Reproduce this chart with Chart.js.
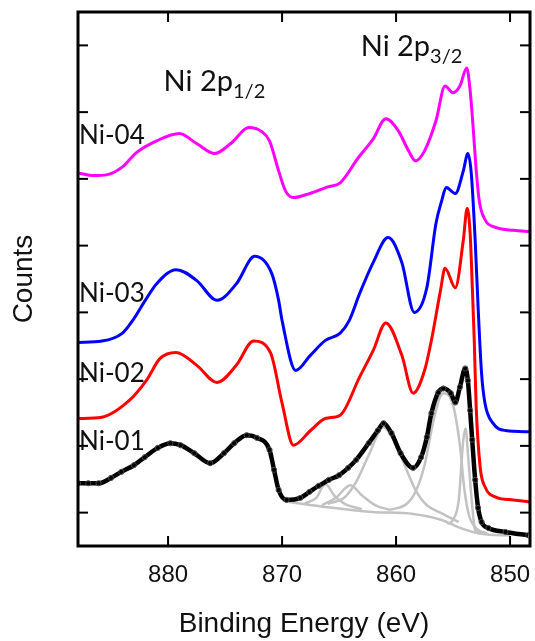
<!DOCTYPE html>
<html>
<head>
<meta charset="utf-8">
<script src="https://cdn.jsdelivr.net/npm/chart.js@4.4.1/dist/chart.umd.min.js"></script>
<style>
  body { margin: 0; background: #fff; }
</style>
</head>
<body>
<canvas id="xpsCanvas" width="535" height="641"></canvas>
<script>
// axis
var xTicks = [880, 870, 860, 850];
var yTicks = [0.5, 1.5, 2.5, 3.5, 4.5, 5.5, 6.5, 7.5];
var sampleNames = ["Ni-01", "Ni-02", "Ni-03", "Ni-04"];
var peakNames = ["Ni 2p", "Ni 2p"];
var peakSubs = ["1/2", "3/2"];

// Ni-04 (magenta)
var ni04Energy = [887.9, 886.5, 885.4, 884.0, 882.8, 881.0, 879.0, 877.5, 875.9, 874.5, 872.9, 871.8, 871.1, 870.3, 869.7, 869.0, 867.6, 866.0, 864.9, 863.3, 862.0, 860.9, 859.8, 858.9, 858.3, 857.5, 856.5, 855.7, 855.0, 854.4, 853.8, 853.5, 853.25, 853.0, 852.7, 852.2, 851.2, 849.7, 848.25];
var ni04Counts = [5.59, 5.55, 5.56, 5.68, 5.89, 6.07, 6.18, 6.03, 5.88, 6.03, 6.27, 6.21, 6.07, 5.62, 5.32, 5.22, 5.28, 5.38, 5.44, 5.82, 6.10, 6.40, 6.22, 5.92, 5.77, 5.92, 6.37, 6.89, 6.79, 6.89, 7.16, 6.82, 6.30, 5.70, 5.17, 4.89, 4.77, 4.73, 4.71];

// Ni-03 (blue)
var ni03Energy = [887.9, 885.8, 884.0, 883.1, 882.0, 881.0, 879.3, 877.5, 875.7, 874.0, 872.4, 870.9, 870.3, 870.0, 868.8, 867.5, 866.2, 864.9, 864.1, 863.2, 862.0, 860.7, 859.5, 858.4, 857.3, 856.5, 856.0, 855.6, 854.8, 854.1, 853.7, 853.4, 853.06, 852.8, 852.5, 852.2, 851.5, 850.4, 848.25];
var ni03Counts = [3.05, 3.07, 3.19, 3.38, 3.68, 3.93, 4.14, 3.98, 3.68, 3.93, 4.34, 4.08, 3.68, 3.38, 2.63, 2.86, 3.08, 3.19, 3.38, 3.78, 4.25, 4.62, 4.25, 3.50, 3.87, 4.83, 5.17, 5.37, 5.28, 5.62, 5.88, 5.58, 4.58, 3.57, 2.59, 2.14, 1.84, 1.73, 1.71];

// Ni-02 (red)
var ni02Energy = [887.9, 885.8, 883.4, 881.9, 880.7, 879.3, 877.5, 875.7, 874.0, 872.5, 871.0, 870.0, 869.0, 867.5, 866.2, 864.9, 863.2, 862.0, 860.9, 859.5, 858.5, 857.5, 856.9, 856.1, 855.7, 854.8, 854.1, 853.76, 853.5, 853.3, 853.14, 852.97, 852.62, 852.18, 851.2, 849.7, 848.25];
var ni02Counts = [1.91, 1.93, 2.18, 2.48, 2.81, 2.90, 2.71, 2.45, 2.71, 3.07, 2.89, 2.14, 1.51, 1.73, 1.91, 1.96, 2.53, 2.93, 3.34, 2.86, 2.29, 2.63, 3.08, 3.83, 4.16, 3.87, 4.58, 5.06, 4.68, 3.83, 3.08, 2.08, 1.18, 0.88, 0.73, 0.69, 0.66];

// Ni-01 (black, measured)
var ni01Energy = [887.9, 887.0, 886.1, 885.0, 884.1, 883.0, 882.05, 880.9, 879.8, 878.9, 877.7, 876.3, 875.1, 874.2, 873.1, 872.2, 871.1, 870.7, 870.3, 869.6, 868.4, 867.6, 866.8, 865.9, 865.0, 864.2, 863.5, 862.4, 861.6, 861.1, 860.4, 859.6, 858.5, 857.8, 857.3, 856.9, 856.3, 855.85, 855.2, 854.8, 854.4, 853.93, 853.7, 853.5, 853.32, 853.06, 852.8, 852.5, 851.9, 850.4, 848.4];
var ni01Counts = [0.94, 0.94, 0.94, 1.02, 1.11, 1.21, 1.33, 1.47, 1.54, 1.51, 1.39, 1.24, 1.39, 1.54, 1.66, 1.62, 1.44, 1.14, 0.84, 0.69, 0.72, 0.81, 0.90, 0.99, 1.06, 1.17, 1.29, 1.54, 1.73, 1.84, 1.69, 1.39, 1.17, 1.33, 1.63, 1.99, 2.30, 2.36, 2.29, 2.15, 2.38, 2.66, 2.48, 2.03, 1.59, 0.99, 0.57, 0.36, 0.27, 0.21, 0.16];

// Ni-01 fit: background and components (grey)
var bgEnergy = [869.4, 866.0, 862.1, 858.5, 856.0, 854.5, 852.8, 850.8, 850.0];
var bgCounts = [0.66, 0.58, 0.51, 0.48, 0.39, 0.28, 0.19, 0.16, 0.16];
var fit1Energy = [868.0, 867.0, 866.2, 865.4, 864.5, 863.0];
var fit1Counts = [0.64, 0.72, 0.93, 0.75, 0.63, 0.55];
var fit2Energy = [866.5, 865.3, 864.0, 863.0, 861.8, 860.5];
var fit2Counts = [0.61, 0.72, 0.91, 0.76, 0.61, 0.54];
var fit3Energy = [866.0, 864.5, 863.5, 862.4, 861.1, 860.0, 859.0, 858.3, 857.3, 856.0, 854.5];
var fit3Counts = [0.63, 0.73, 0.96, 1.36, 1.78, 1.51, 1.11, 0.84, 0.61, 0.49, 0.36];
var fit4Energy = [860.5, 859.0, 858.3, 857.5, 856.8, 856.2, 855.8, 855.0, 854.4, 854.0, 853.6, 853.0, 852.0];
var fit4Counts = [0.54, 0.64, 0.81, 1.21, 1.81, 2.21, 2.29, 2.11, 1.51, 0.84, 0.46, 0.27, 0.19];
var fit5Energy = [855.5, 855.0, 854.5, 854.1, 853.9, 853.67, 853.4, 853.06, 852.5];
var fit5Counts = [0.33, 0.39, 0.69, 1.59, 1.76, 1.33, 0.76, 0.24, 0.19];

function toPoints(xs, ys) {
    return xs.map(function(x, i){ return {x: x, y: ys[i]}; });
}

function lineSet(xs, ys, color, width) {
    return {
        data: toPoints(xs, ys),
        borderColor: color,
        borderWidth: width,
        pointRadius: 0,
        cubicInterpolationMode: "monotone",
        fill: false
    };
}

var fitColor = "#c2c2c2";
var datasets = [
    {
        data: toPoints(ni01Energy, ni01Counts),
        borderColor: "#000",
        borderWidth: 4.5,
        pointRadius: 2.6,
        pointBorderWidth: 1,
        pointBorderColor: "#444",
        pointBackgroundColor: "rgba(255,255,255,0)",
        cubicInterpolationMode: "monotone",
        fill: false
    },
    lineSet(bgEnergy, bgCounts, fitColor, 2.5),
    lineSet(fit1Energy, fit1Counts, fitColor, 2.5),
    lineSet(fit2Energy, fit2Counts, fitColor, 2.5),
    lineSet(fit3Energy, fit3Counts, fitColor, 2.5),
    lineSet(fit4Energy, fit4Counts, fitColor, 2.5),
    lineSet(fit5Energy, fit5Counts, fitColor, 2.5),
    lineSet(ni02Energy, ni02Counts, "#ff0000", 3),
    lineSet(ni03Energy, ni03Counts, "#0000ff", 3),
    lineSet(ni04Energy, ni04Counts, "#ff00ff", 3)
];

// frame, inward ticks and text labels
var framePlugin = {
    id: "frame",
    afterDraw: function(chart) {
        var ctx = chart.ctx, xs = chart.scales.x, ys = chart.scales.y, a = chart.chartArea;
        ctx.save();
        function seg(x1, y1, x2, y2) {
            ctx.beginPath(); ctx.moveTo(x1, y1); ctx.lineTo(x2, y2); ctx.stroke();
        }
        ctx.strokeStyle = "#000";
        ctx.lineWidth = 2;
        xTicks.forEach(function(v){
            var px = xs.getPixelForValue(v);
            seg(px, a.bottom, px, a.bottom - 10);
            seg(px, a.top, px, a.top + 10);
        });
        yTicks.forEach(function(v){
            var py = ys.getPixelForValue(v);
            seg(a.left, py, a.left + 10, py);
            seg(a.right, py, a.right - 10, py);
        });
        ctx.lineWidth = 3;
        ctx.strokeRect(a.left, a.top, a.right - a.left, a.bottom - a.top);

        ctx.fillStyle = "#111";
        ctx.textAlign = "left";
        ctx.textBaseline = "middle";
        ctx.font = "26px Lato";
        var nameY = [1.56, 2.59, 3.78, 6.15];
        sampleNames.forEach(function(n, i){
            ctx.fillText(n, a.left + 1, ys.getPixelForValue(nameY[i]));
        });

        ctx.textBaseline = "alphabetic";
        var peakX = [880.39, 863.1];
        var peakY = [6.81, 7.34];
        peakNames.forEach(function(n, i){
            var px = xs.getPixelForValue(peakX[i]);
            var py = ys.getPixelForValue(peakY[i]);
            ctx.font = "29px Lato";
            ctx.fillText(n, px, py);
            var w = ctx.measureText(n).width;
            ctx.font = "20px Lato";
            ctx.fillText(peakSubs[i], px + w, py + 7);
        });
        ctx.restore();
    }
};

var ctx = document.getElementById("xpsCanvas");
var xpsChart = new Chart(ctx, {
    type: "line",
    data: { datasets: datasets },
    options: {
        responsive: false,
        animation: false,
        devicePixelRatio: 1,
        layout: { padding: { top: 12, right: 3, left: 0, bottom: 0 } },
        plugins: { legend: { display: false }, tooltip: { enabled: false } },
        scales: {
            x: {
                type: "linear",
                reverse: true,
                min: 848.25,
                max: 887.9,
                afterFit: function(scale){
                    scale.height = 95;
                    scale.paddingLeft = 0;
                    scale.paddingRight = 0;
                },
                afterBuildTicks: function(scale){
                    scale.ticks = xTicks.map(function(v){ return {value: v}; });
                },
                grid: { display: false, drawTicks: false },
                border: { display: false },
                ticks: {
                    padding: 15,
                    color: "#111",
                    font: { family: "Liberation Sans", size: 24 }
                },
                title: {
                    display: true,
                    text: "Binding Energy (eV)",
                    color: "#111",
                    padding: { top: 0, bottom: 0 },
                    font: { family: "Liberation Sans", size: 28 }
                }
            },
            y: {
                type: "linear",
                min: 0,
                max: 8,
                afterFit: function(scale){ scale.width = 78; },
                grid: { display: false, drawTicks: false },
                border: { display: false },
                ticks: { display: false },
                title: {
                    display: true,
                    text: "Counts",
                    color: "#111",
                    padding: { top: 7, bottom: 0 },
                    font: { family: "Liberation Sans", size: 28 }
                }
            }
        }
    },
    plugins: [framePlugin]
});
</script>
</body>
</html>
